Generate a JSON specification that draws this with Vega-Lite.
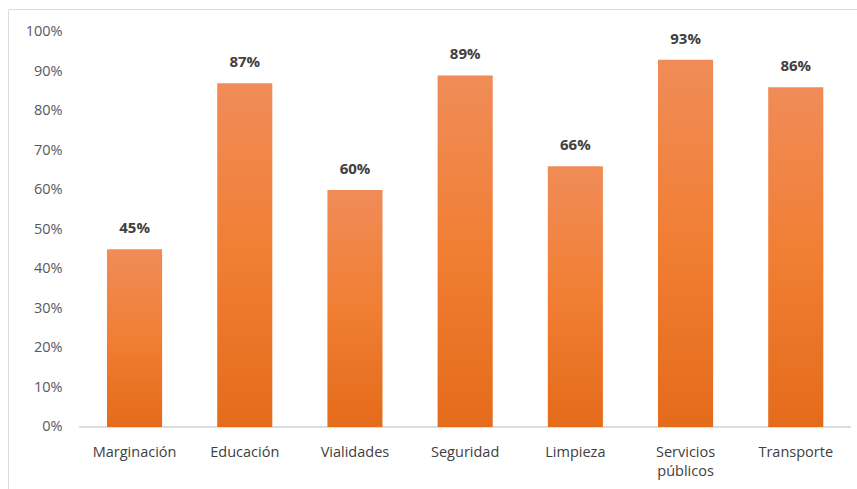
{
  "$schema": "https://vega.github.io/schema/vega-lite/v6.json",
  "width": 852,
  "height": 483,
  "autosize": {"type": "none"},
  "padding": {"left": 8, "top": 9, "right": 0, "bottom": 0},
  "background": "white",
  "config": {"view": {"stroke": "#D9DDE3", "strokeWidth": 1}, "font": "Open Sans"},
  "data": {"values": [
    {"cat": "Marginación", "value": 0.45},
    {"cat": "Educación", "value": 0.87},
    {"cat": "Vialidades", "value": 0.60},
    {"cat": "Seguridad", "value": 0.89},
    {"cat": "Limpieza", "value": 0.66},
    {"cat": "Servicios públicos", "value": 0.93},
    {"cat": "Transporte", "value": 0.86}
  ]},
  "layer": [
    {
      "mark": {"type": "rule", "color": "#D9DDE3", "strokeWidth": 1},
      "encoding": {
        "x": {"datum": "Marginación", "type": "nominal", "bandPosition": -0.5},
        "x2": {"datum": "Transporte", "bandPosition": 1.5},
        "y": {"datum": 0, "type": "quantitative"}
      }
    },
    {
      "mark": {"type": "bar", "color": {"gradient": "linear", "x1": 0, "y1": 0, "x2": 0, "y2": 1, "stops": [{"offset": 0, "color": "#F08C58"}, {"offset": 0.5, "color": "#F17E33"}, {"offset": 1, "color": "#E46B1A"}]}},
      "encoding": {
        "x": {
          "field": "cat", "type": "nominal", "sort": null,
          "scale": {"domain": ["Marginación", "Educación", "Vialidades", "Seguridad", "Limpieza", "Servicios públicos", "Transporte"], "paddingInner": 0.5, "paddingOuter": 0.6157, "align": 0.7296},
          "axis": {"title": null, "labelAngle": 0, "labelAlign": "center", "offset": -65, "domain": false, "ticks": false, "labelPadding": 25, "labelFontSize": 14.5, "labelColor": "#404040", "labelLineHeight": 19.5,
                   "labelExpr": "datum.label == 'Servicios públicos' ? ['Servicios', 'públicos'] : datum.label"}
        },
        "y": {
          "field": "value", "type": "quantitative",
          "scale": {"domain": [-0.1646, 1.0582], "nice": false},
          "axis": {"title": null, "values": [0, 0.1, 0.2, 0.3, 0.4, 0.5, 0.6, 0.7, 0.8, 0.9, 1], "format": ".0%", "offset": -54, "domain": false, "ticks": false, "grid": false, "labelPadding": 0, "labelFontSize": 14.5, "labelColor": "#595959"}
        }
      }
    },
    {
      "mark": {"type": "text", "fontWeight": "bold", "fontSize": 15, "color": "#404040", "baseline": "alphabetic", "dy": -16},
      "encoding": {
        "x": {"field": "cat", "type": "nominal", "sort": null},
        "y": {"field": "value", "type": "quantitative"},
        "text": {"field": "value", "type": "quantitative", "format": ".0%"}
      }
    }
  ]
}
